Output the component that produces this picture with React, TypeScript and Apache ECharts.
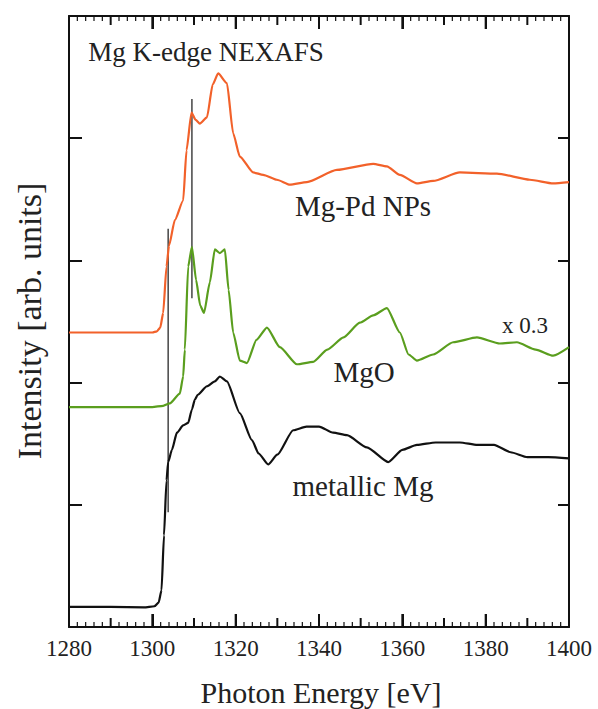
import React, { useEffect, useRef } from "react";
import * as echarts from "echarts";

const xTicks = [1280, 1300, 1320, 1340, 1360, 1380, 1400];
const minorStep = 2;

const mgEnergy = [1280, 1290, 1298, 1300.5, 1301.5, 1302.2, 1302.8, 1303.4, 1303.8, 1304.7, 1305.9, 1307.4, 1308.6, 1309.5, 1310.2, 1310.9, 1313.1, 1315, 1316.2, 1317.9, 1321, 1323.9, 1325.5, 1327.8, 1330, 1333.8, 1337, 1340, 1343.4, 1346.7, 1351.5, 1356.6, 1360, 1363.5, 1368, 1373.8, 1378, 1382, 1386, 1390, 1395, 1400];
const mgValue = [0.164, 0.164, 0.16, 0.17, 0.2, 0.3, 0.75, 1.2, 1.35, 1.45, 1.59, 1.65, 1.67, 1.78, 1.86, 1.9, 1.97, 2.01, 2.05, 2.01, 1.75, 1.53, 1.42, 1.33, 1.41, 1.61, 1.64, 1.64, 1.59, 1.57, 1.47, 1.35, 1.45, 1.49, 1.51, 1.51, 1.49, 1.49, 1.43, 1.39, 1.39, 1.38];

const mgoEnergy = [1280, 1300, 1302.6, 1304.2, 1306.6, 1307.4, 1307.8, 1308.6, 1309.5, 1310.5, 1311.5, 1312.4, 1313.8, 1315, 1316.2, 1317.4, 1318.3, 1319.4, 1321, 1322.7, 1325, 1327.5, 1330.6, 1334.7, 1338.6, 1342, 1345.9, 1349.8, 1353, 1356.3, 1359.4, 1361.5, 1363.5, 1367.4, 1372.2, 1377.9, 1383.4, 1387.5, 1392, 1396.2, 1400];
const mgoValue = [1.8, 1.8, 1.81, 1.83, 1.91, 2.05, 2.27, 2.95, 3.11, 2.84, 2.63, 2.57, 2.82, 3.09, 3.06, 3.09, 2.76, 2.41, 2.18, 2.16, 2.35, 2.45, 2.29, 2.15, 2.17, 2.27, 2.37, 2.49, 2.55, 2.61, 2.41, 2.23, 2.18, 2.23, 2.33, 2.37, 2.32, 2.33, 2.27, 2.22, 2.29];

const npEnergy = [1280, 1295, 1300, 1301.1, 1301.9, 1302.6, 1303.4, 1304, 1305.4, 1307.4, 1308.2, 1309.4, 1310.4, 1311.4, 1313.1, 1314.5, 1315.8, 1317.9, 1319.4, 1321, 1324.2, 1326.6, 1329.9, 1333, 1337.1, 1344.3, 1353, 1356.3, 1359.4, 1363.5, 1367.4, 1373.8, 1382.7, 1390.6, 1396.2, 1400];
const npValue = [2.41, 2.41, 2.41, 2.42, 2.45, 2.57, 2.95, 3.12, 3.33, 3.49, 3.9, 4.21, 4.15, 4.12, 4.17, 4.44, 4.53, 4.45, 4.04, 3.85, 3.72, 3.7, 3.66, 3.62, 3.64, 3.74, 3.79, 3.77, 3.7, 3.63, 3.65, 3.72, 3.71, 3.66, 3.63, 3.64];

const edgeLine1 = [[1303.8, 0.94], [1303.8, 3.26]];
const edgeLine2 = [[1309.5, 2.69], [1309.5, 4.32]];

const FONT = "Liberation Serif";

function zip(xs: number[], ys: number[]) {
  return xs.map((x, i) => [x, ys[i]]);
}

// tick rank: 2 = labelled (every 20), 1 = every 10, 0 = minor (every 2)
function buildTicks() {
  const out: number[][] = [];
  const lo = xTicks[0];
  const hi = xTicks[xTicks.length - 1];
  for (let v = lo; v <= hi; v += minorStep) {
    const rank = (v - lo) % 20 === 0 ? 2 : (v - lo) % 10 === 0 ? 1 : 0;
    out.push([v, rank]);
  }
  return out;
}

function txt(x: number, y: number, text: string, size: number, rotation = 0) {
  return {
    type: "text",
    x,
    y,
    rotation,
    style: { text, fontFamily: FONT, fontSize: size, fill: "#222", align: "center", verticalAlign: "middle" },
  };
}

export default function App() {
  const ref = useRef<HTMLDivElement>(null);
  useEffect(() => {
    if (!ref.current) return;
    const chart = echarts.init(ref.current, null, { renderer: "svg" });
    const axisLine = { show: true, onZero: false, lineStyle: { color: "#111", width: 2 } };
    chart.setOption({
      animation: false,
      backgroundColor: "#fff",
      grid: { left: 69, right: 29, top: 16, bottom: 82 },
      xAxis: [
        {
          type: "value",
          min: xTicks[0],
          max: xTicks[xTicks.length - 1],
          interval: 20,
          position: "bottom",
          splitLine: { show: false },
          axisLine,
          axisTick: { show: true, inside: true, length: 13, lineStyle: { color: "#111", width: 2 } },
          axisLabel: { show: true, margin: 10, fontFamily: FONT, fontSize: 23, color: "#222", formatter: (v: number) => String(v) },
        },
        {
          type: "value",
          min: xTicks[0],
          max: xTicks[xTicks.length - 1],
          interval: 20,
          position: "top",
          splitLine: { show: false },
          axisLine,
          axisTick: { show: true, inside: true, length: 13, lineStyle: { color: "#111", width: 2 } },
          axisLabel: { show: false },
        },
      ],
      yAxis: [
        {
          type: "value",
          min: 0,
          max: 5,
          interval: 1,
          position: "left",
          axisLine,
          axisTick: { show: true, inside: true, length: 13, lineStyle: { color: "#111", width: 2 } },
          axisLabel: { show: false },
          splitLine: { show: false },
        },
        {
          type: "value",
          min: 0,
          max: 5,
          interval: 1,
          position: "right",
          axisLine,
          axisTick: { show: true, inside: true, length: 11, lineStyle: { color: "#111", width: 2 } },
          axisLabel: { show: false },
          splitLine: { show: false },
        },
      ],
      series: [
        {
          type: "line",
          data: edgeLine1,
          showSymbol: false,
          lineStyle: { color: "#444", width: 1.5 },
        },
        {
          type: "line",
          data: edgeLine2,
          showSymbol: false,
          lineStyle: { color: "#444", width: 1.5 },
        },
        {
          name: "metallic Mg",
          type: "line",
          data: zip(mgEnergy, mgValue),
          showSymbol: false,
          smooth: 0.2,
          smoothMonotone: "x",
          lineStyle: { color: "#111", width: 2.2 },
        },
        {
          name: "MgO",
          type: "line",
          data: zip(mgoEnergy, mgoValue),
          showSymbol: false,
          smooth: 0.2,
          smoothMonotone: "x",
          lineStyle: { color: "#5a9e1e", width: 2.2 },
        },
        {
          name: "Mg-Pd NPs",
          type: "line",
          data: zip(npEnergy, npValue),
          showSymbol: false,
          smooth: 0.2,
          smoothMonotone: "x",
          lineStyle: { color: "#f2612a", width: 2.2 },
        },
        {
          type: "custom",
          silent: true,
          z: 20,
          clip: false,
          data: buildTicks(),
          encode: { x: 0, y: 1 },
          renderItem: (params: any, api: any) => {
            const v = api.value(0);
            const rank = api.value(1);
            const px = api.coord([v, 1])[0];
            const pBottom = api.coord([v, 0])[1];
            const pTop = api.coord([v, 5])[1];
            const len = rank === 2 ? 13 : rank === 1 ? 9 : 5;
            const style = { stroke: "#111", lineWidth: rank > 0 ? 2 : 1.2, fill: null };
            return {
              type: "group",
              children: [
                { type: "line", shape: { x1: px, y1: pBottom, x2: px, y2: pBottom - len }, style },
                { type: "line", shape: { x1: px, y1: pTop, x2: px, y2: pTop + len }, style },
              ],
            };
          },
        },
      ],
      graphic: [
        txt(206, 52, "Mg K-edge NEXAFS", 27),
        txt(363, 206, "Mg-Pd NPs", 29),
        txt(364, 372, "MgO", 29),
        txt(525, 325, "x 0.3", 23),
        txt(363, 486, "metallic Mg", 29),
        txt(321, 692, "Photon Energy [eV]", 30),
        txt(29, 321, "Intensity [arb. units]", 34, Math.PI / 2),
      ],
    });
    return () => chart.dispose();
  }, []);
  return <div ref={ref} style={{ position: "fixed", left: 0, top: 0, width: 598, height: 709 }} />;
}
